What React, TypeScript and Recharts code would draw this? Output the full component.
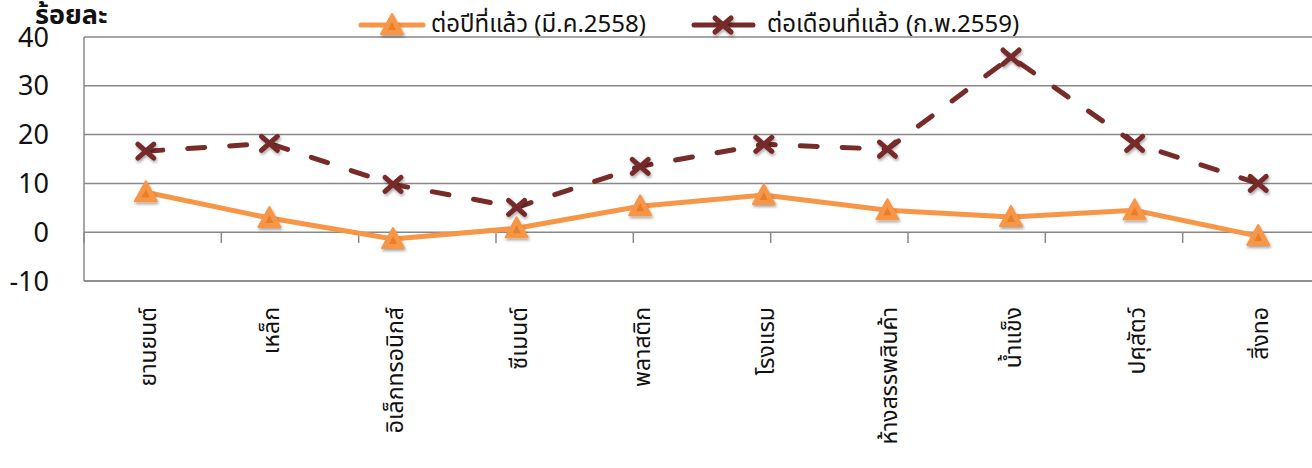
import React from 'react'
import {
  LineChart, Line, XAxis, YAxis, CartesianGrid, ReferenceLine,
} from 'recharts'

const categories = [
  'ยานยนต์', 'เหล็ก', 'อิเล็กทรอนิกส์', 'ซีเมนต์', 'พลาสติก',
  'โรงแรม', 'ห้างสรรพสินค้า', 'น้ำแข็ง', 'ปศุสัตว์', 'สิ่งทอ',
]
const yoyValues = [8.2, 2.9, -1.4, 0.8, 5.3, 7.6, 4.5, 3.1, 4.5, -0.8]
const momValues = [16.6, 18.2, 9.8, 5.1, 13.5, 18.0, 17.0, 35.9, 18.2, 10.0]
const yTicks = [-10, 0, 10, 20, 30, 40]
const yoyName = 'ต่อปีที่แล้ว (มี.ค.2558)'
const momName = 'ต่อเดือนที่แล้ว (ก.พ.2559)'
const unitLabel = 'ร้อยละ'

// category boundaries where the small ticks hang under the zero line
const boundaries = [0, 1, 2, 3, 4, 5, 6, 7, 8, 9]

const data = categories.map((name, i) => ({ name, yoy: yoyValues[i], mom: momValues[i] }))

const ORANGE = '#F79646'
const DARK_RED = '#772C2A'
const GRID = '#888888'
const FONT = "'Noto Sans Thai', 'Noto Sans', sans-serif"

function TriangleDot({ cx, cy }: any) {
  if (cx == null || cy == null) return null
  return (
    <g filter="url(#mkShadow)">
      <polygon
        points={`${cx},${cy - 11} ${cx + 11},${cy + 9} ${cx - 11},${cy + 9}`}
        fill={ORANGE}
        stroke={ORANGE}
        strokeWidth={2}
        strokeLinejoin="round"
      />
      <polygon
        points={`${cx},${cy - 3} ${cx + 4},${cy + 5} ${cx - 4},${cy + 5}`}
        fill="#E07420"
        opacity={0.7}
      />
    </g>
  )
}

function CrossDot({ cx, cy }: any) {
  if (cx == null || cy == null) return null
  return (
    <g filter="url(#mkShadow)" stroke={DARK_RED} strokeWidth={5} strokeLinecap="round">
      <line x1={cx - 8} y1={cy - 7} x2={cx + 8} y2={cy + 7} />
      <line x1={cx - 8} y1={cy + 7} x2={cx + 8} y2={cy - 7} />
    </g>
  )
}

function CategoryTick({ x, y, payload }: any) {
  const tx = x + 3
  const ty = y + 18
  return (
    <text
      x={tx}
      y={ty}
      transform={`rotate(-90 ${tx} ${ty})`}
      textAnchor="end"
      dominantBaseline="central"
      fontSize={23}
      fontFamily={FONT}
      fill="#111"
    >
      {payload.value}
    </text>
  )
}

function LegendItem({ kind, label }: { kind: 'tri' | 'cross'; label: string }) {
  return (
    <div style={{ display: 'flex', alignItems: 'center' }}>
      <svg width={68} height={28}>
        {kind === 'tri' ? (
          <>
            <line x1={3} y1={14} x2={65} y2={14} stroke={ORANGE} strokeWidth={5} strokeLinecap="round" />
            <TriangleDot cx={34} cy={14} />
          </>
        ) : (
          <>
            <line x1={3} y1={14} x2={62} y2={14} stroke={DARK_RED} strokeWidth={5} strokeLinecap="round" />
            <CrossDot cx={32} cy={14} />
          </>
        )}
      </svg>
      <span style={{ fontSize: 24, fontFamily: FONT, color: '#111', marginLeft: kind === 'tri' ? 5 : 8, lineHeight: '28px' }}>{label}</span>
    </div>
  )
}

export default function App() {
  return (
    <div style={{ position: 'absolute', left: 0, top: 0, width: 1312, height: 468, background: '#fff', overflow: 'hidden' }}>
      <svg width={0} height={0} style={{ position: 'absolute' }}>
        <defs>
          <filter id="mkShadow" x="-50%" y="-50%" width="200%" height="200%">
            <feDropShadow dx={1} dy={2} stdDeviation={1.5} floodColor="#000" floodOpacity={0.35} />
          </filter>
        </defs>
      </svg>
      <LineChart width={1312} height={468} data={data} margin={{ top: 37, right: -8, left: 0, bottom: 0 }}>
        <CartesianGrid vertical={false} stroke={GRID} strokeWidth={1.5} />
        <XAxis
          dataKey="name"
          scale="band"
          height={187}
          axisLine={{ stroke: GRID, strokeWidth: 1.5 }}
          tickLine={false}
          interval={0}
          tick={<CategoryTick />}
        />
        <XAxis xAxisId="num" type="number" domain={[0, 10]} hide allowDataOverflow />
        <YAxis
          width={84}
          domain={[-10, 40]}
          ticks={yTicks}
          interval={0}
          axisLine={{ stroke: GRID, strokeWidth: 1.5 }}
          tickLine={false}
          tickMargin={29}
          tick={{ fontSize: 27, fill: '#111', fontFamily: FONT }}
        />
        {boundaries.map((b) => (
          <ReferenceLine
            key={b}
            xAxisId="num"
            segment={[{ x: b, y: 0 }, { x: b, y: -2.2 }]}
            stroke={GRID}
            strokeWidth={1.5}
          />
        ))}
        <Line
          dataKey="yoy"
          name={yoyName}
          stroke={ORANGE}
          strokeWidth={5}
          dot={<TriangleDot />}
          activeDot={false}
          isAnimationActive={false}
        />
        <Line
          dataKey="mom"
          name={momName}
          stroke={DARK_RED}
          strokeWidth={5}
          strokeDasharray="17 25"
          strokeLinecap="round"
          dot={<CrossDot />}
          activeDot={false}
          isAnimationActive={false}
        />
      </LineChart>
      <div style={{ position: 'absolute', left: 35, top: 1, fontSize: 27, fontWeight: 'bold', fontFamily: FONT, color: '#111', lineHeight: '30px' }}>
        {unitLabel}
      </div>
      <div style={{ position: 'absolute', left: 358, top: 11, display: 'flex', gap: 45 }}>
        <LegendItem kind="tri" label={yoyName} />
        <LegendItem kind="cross" label={momName} />
      </div>
    </div>
  )
}
